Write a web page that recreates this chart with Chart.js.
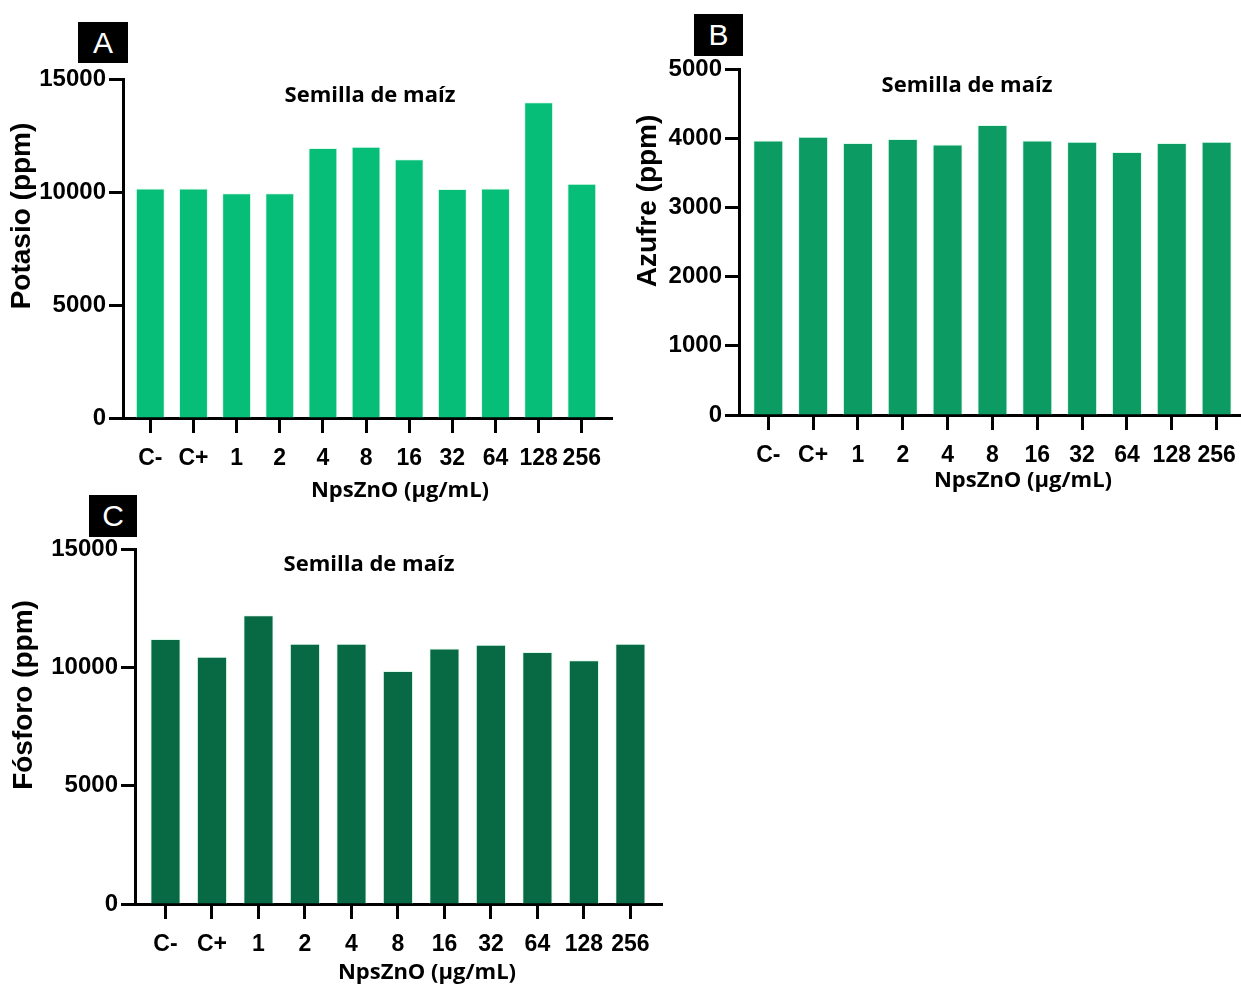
<!DOCTYPE html>
<html>
<head>
<meta charset="utf-8">
<script src="https://cdn.jsdelivr.net/npm/chart.js@4.4.1/dist/chart.umd.min.js"></script>
<style>
  html, body { margin: 0; padding: 0; background: #fff; width: 1241px; height: 986px; overflow: hidden; }
  body { position: relative; }
  canvas.panel { position: absolute; }
  .tag {
    position: absolute; background: #000; color: #fff;
    font: 30px "Liberation Sans", Arial, sans-serif;
    display: flex; align-items: center; justify-content: center;
  }
</style>
</head>
<body>
<canvas id="chartA" class="panel" style="left:0;top:0" width="620" height="505"></canvas>
<canvas id="chartB" class="panel" style="left:620px;top:0" width="630" height="500"></canvas>
<canvas id="chartC" class="panel" style="left:0;top:495px" width="680" height="491"></canvas>
<div class="tag" style="left:78px;top:22px;width:50px;height:41px">A</div>
<div class="tag" style="left:694px;top:14px;width:49px;height:42px">B</div>
<div class="tag" style="left:89px;top:495px;width:48px;height:42px">C</div>
<script>
// NpsZnO doses (µg/mL) plus negative / positive controls
const doseLabels = ['C-', 'C+', '1', '2', '4', '8', '16', '32', '64', '128', '256'];

// Element content in maize seed (ppm)
const potasio = [10150, 10150, 9950, 9950, 11950, 12000, 11450, 10130, 10160, 13970, 10370];
const azufre  = [3965, 4020, 3930, 3990, 3910, 4190, 3965, 3950, 3800, 3930, 3950];
const fosforo = [11200, 10450, 12200, 11000, 11000, 9850, 10800, 10950, 10650, 10300, 11000];

// Y-axis tick values
const ticksPotasio = [0, 5000, 10000, 15000];
const ticksAzufre  = [0, 1000, 2000, 3000, 4000, 5000];
const ticksFosforo = [0, 5000, 10000, 15000];

const chartTitle = 'Semilla de maíz';
const xAxisTitle = 'NpsZnO (µg/mL)';

const BOLD_SANS = '"Liberation Sans", Arial, sans-serif';
const TITLE_FONT = '"Open Sans", "Liberation Sans", sans-serif';

// Free-floating panel texts (title, axis titles)
const panelText = {
  id: 'panelText',
  afterDraw(chart, args, o) {
    const c = chart.ctx;
    c.save();
    c.fillStyle = '#000';
    c.textAlign = 'center';
    c.textBaseline = 'alphabetic';
    c.font = '700 22px ' + TITLE_FONT;
    c.fillText(o.title, o.titleX, o.titleY);
    c.fillText(o.xTitle, o.xTitleX, o.xTitleY);
    c.translate(o.yTitleX, o.yTitleY);
    c.rotate(-Math.PI / 2);
    c.font = '700 28px ' + BOLD_SANS;
    c.fillText(o.yTitle, 0, 0);
    c.restore();
  }
};

function makePanel(id, values, yTicks, yTitle, color, L) {
  const axisGrid = (len) => ({
    offset: false, drawOnChartArea: false, drawTicks: true,
    tickLength: len, tickWidth: 3, tickColor: '#000', color: '#000'
  });
  return new Chart(document.getElementById(id), {
    type: 'bar',
    data: {
      datasets: [{
        data: values.map((v, i) => ({ x: i, y: v })),
        backgroundColor: color,
        borderColor: 'rgba(215,250,232,0.85)',
        borderWidth: 1,
        borderSkipped: 'bottom',
        barPercentage: L.barPct,
        categoryPercentage: 1
      }]
    },
    options: {
      responsive: false,
      animation: false,
      events: [],
      layout: { padding: { left: 0, top: L.top, right: L.right, bottom: 0 } },
      plugins: {
        legend: { display: false },
        tooltip: { enabled: false },
        panelText: Object.assign({ title: chartTitle, xTitle: xAxisTitle, yTitle }, L.text)
      },
      scales: {
        x: {
          type: 'linear', offset: false, bounds: 'data', min: L.xMin, max: L.xMax, z: 1,
          afterFit(s) { s.height = L.xHeight; },
          afterBuildTicks(s) { s.ticks = doseLabels.map((_, i) => ({ value: i })); },
          ticks: {
            autoSkip: false, maxRotation: 0, minRotation: 0, padding: 12, color: '#000',
            font: { family: BOLD_SANS, size: 23, weight: 'bold' },
            callback: (v) => doseLabels[v] ?? ''
          },
          grid: axisGrid(15),
          border: { display: true, color: '#000', width: 3 }
        },
        y: {
          type: 'linear', offset: false, bounds: 'data', min: 0, max: yTicks[yTicks.length - 1], z: 1,
          afterFit(s) { s.width = L.left; },
          afterBuildTicks(s) { s.ticks = yTicks.map((v) => ({ value: v })); },
          ticks: {
            padding: 3, color: '#000',
            font: { family: BOLD_SANS, size: 24, weight: 'bold' },
            callback: (v) => String(v)
          },
          grid: axisGrid(14),
          border: { display: true, color: '#000', width: 3 }
        }
      }
    },
    plugins: [panelText]
  });
}

function drawAll() {
  makePanel('chartA', potasio, ticksPotasio, 'Potasio (ppm)', '#06BE77', {
    top: 79, left: 123, right: 8, xHeight: 87, xMin: -0.633, xMax: 10.7, barPct: 0.67,
    text: { titleX: 370, titleY: 102, xTitleX: 400, xTitleY: 497, yTitleX: 30, yTitleY: 216 }
  });
  makePanel('chartB', azufre, ticksAzufre, 'Azufre (ppm)', '#0C9B63', {
    top: 69, left: 119, right: 2, xHeight: 85, xMin: -0.653, xMax: 10.7, barPct: 0.67,
    text: { titleX: 347, titleY: 92, xTitleX: 403, xTitleY: 487, yTitleX: 36, yTitleY: 201 }
  });
  makePanel('chartC', fosforo, ticksFosforo, 'Fósforo (ppm)', '#086A44', {
    top: 54, left: 135, right: 18, xHeight: 82, xMin: -0.656, xMax: 10.68, barPct: 0.65,
    text: { titleX: 369, titleY: 76, xTitleX: 427, xTitleY: 484, yTitleX: 32, yTitleY: 200 }
  });
}

Promise.all([
  document.fonts.load('700 22px "Open Sans"'),
  document.fonts.load('700 24px "Liberation Sans"')
]).catch(() => {}).then(drawAll);
</script>
</body>
</html>
